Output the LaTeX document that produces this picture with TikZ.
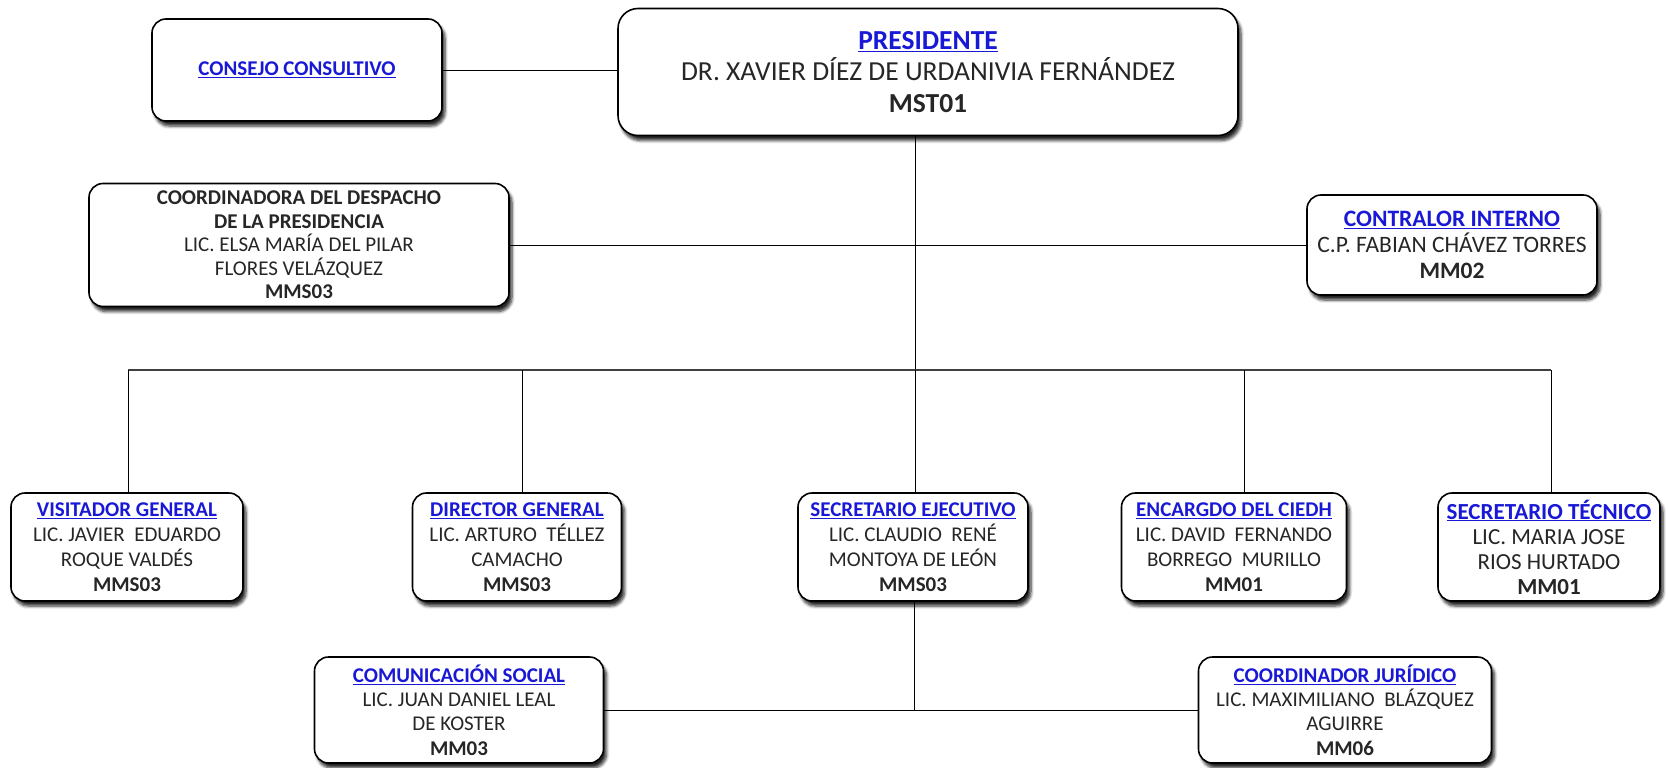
\documentclass[tikz,border=0pt]{standalone}
\usepackage{fontspec}
\setmainfont{Carlito}
\usetikzlibrary{shadows,shadows.blur}
\definecolor{linkblue}{RGB}{24,24,214}
\definecolor{nametext}{RGB}{38,38,38}
\newcommand\orgtitle[1]{{\color{linkblue}\bfseries\underline{#1}}}
\newcommand\orgcode[1]{{\bfseries #1}}
\begin{document}
\begin{tikzpicture}[x=1pt,y=-1pt,
  orgbox/.style={draw=black, line width=1.6pt, rounded corners=14pt, fill=white,
    align=center, inner sep=0pt, text=nametext,
    font=\fontsize{21}{24.8}\selectfont,
    blur shadow={shadow xshift=3pt, shadow yshift=-5pt, shadow blur radius=3pt, shadow opacity=85, shadow blur steps=6}},
  bigbox/.style={orgbox, rounded corners=20pt, font=\fontsize{27.5}{31.5}\selectfont},
  largebox/.style={orgbox, font=\fontsize{23.5}{26}\selectfont},
  link/.style={draw=black, line width=0.9pt},
  busline/.style={draw=black!75, line width=1.8pt}]
\useasboundingbox (0,0) rectangle (1668,768);

% nodes
\node[orgbox, minimum width=290pt, minimum height=102pt] (cons) at (297,70)
  {\orgtitle{CONSEJO CONSULTIVO}};
\node[bigbox, minimum width=620pt, minimum height=127pt] (pres) at (928,72)
  {\orgtitle{PRESIDENTE}\\DR. XAVIER DÍEZ DE URDANIVIA FERNÁNDEZ\\\orgcode{MST01}};
\node[orgbox, font=\fontsize{21}{23.5}\selectfont, minimum width=420pt, minimum height=123pt] (coord) at (299,245)
  {\orgcode{COORDINADORA DEL DESPACHO}\\\orgcode{DE LA PRESIDENCIA}\\LIC. ELSA MARÍA DEL PILAR\\FLORES VELÁZQUEZ\\\orgcode{MMS03}};
\node[largebox, minimum width=290pt, minimum height=100pt] (contr) at (1452,245)
  {\orgtitle{CONTRALOR INTERNO}\\C.P. FABIAN CHÁVEZ TORRES\\\orgcode{MM02}};

\node[orgbox, minimum width=232pt, minimum height=108pt] (vis) at (127,547)
  {\orgtitle{VISITADOR GENERAL}\\LIC. JAVIER\ \ EDUARDO\\ROQUE VALDÉS\\\orgcode{MMS03}};
\node[orgbox, minimum width=209pt, minimum height=108pt] (dir) at (517,547)
  {\orgtitle{DIRECTOR GENERAL}\\LIC. ARTURO\ \ TÉLLEZ\\CAMACHO\\\orgcode{MMS03}};
\node[orgbox, minimum width=230pt, minimum height=108pt] (sej) at (913,547)
  {\orgtitle{SECRETARIO EJECUTIVO}\\LIC. CLAUDIO\ \ RENÉ\\MONTOYA DE LEÓN\\\orgcode{MMS03}};
\node[orgbox, minimum width=225pt, minimum height=108pt] (enc) at (1234,547)
  {\orgtitle{ENCARGDO DEL CIEDH}\\LIC. DAVID\ \ FERNANDO\\BORREGO\ \ MURILLO\\\orgcode{MM01}};
\node[largebox, font=\fontsize{23}{25}\selectfont, minimum width=222pt, minimum height=108pt] (stec) at (1549,547)
  {\orgtitle{SECRETARIO TÉCNICO}\\LIC. MARIA JOSE\\RIOS HURTADO\\\orgcode{MM01}};

\node[orgbox, font=\fontsize{21}{24.4}\selectfont, minimum width=289pt, minimum height=106pt] (com) at (459,710)
  {\orgtitle{COMUNICACIÓN SOCIAL}\\LIC. JUAN\ DANIEL\ LEAL\\DE KOSTER\\\orgcode{MM03}};
\node[orgbox, font=\fontsize{21}{24.4}\selectfont, minimum width=293pt, minimum height=106pt] (cjur) at (1345,710)
  {\orgtitle{COORDINADOR JURÍDICO}\\LIC. MAXIMILIANO\ \ BLÁZQUEZ\\AGUIRRE\\\orgcode{MM06}};

% coordinates
\coordinate (trunk) at (915,370);
\coordinate (d1) at (128,370);
\coordinate (d2) at (522,370);
\coordinate (d4) at (1244,370);
\coordinate (d5) at (1551,370);
\coordinate (jn) at (914,710);

% connectors
\draw[link] (cons.east) -- (cons.east -| pres.west);
\draw[link] (pres.south -| trunk) -- (trunk);
\draw[link] (coord.east) -- (coord.east -| trunk);
\draw[link] (contr.west) -- (contr.west -| trunk);
\draw[busline] (d1) -- (d5);
\draw[link] (d1) -- (d1 |- vis.north);
\draw[link] (d2) -- (d2 |- dir.north);
\draw[link] (trunk) -- (trunk |- sej.north);
\draw[link] (d4) -- (d4 |- enc.north);
\draw[link] (d5) -- (d5 |- stec.north);
\draw[link] (sej.south -| jn) -- (jn);
\draw[link] (com.east) -- (cjur.west);
\end{tikzpicture}
\end{document}
